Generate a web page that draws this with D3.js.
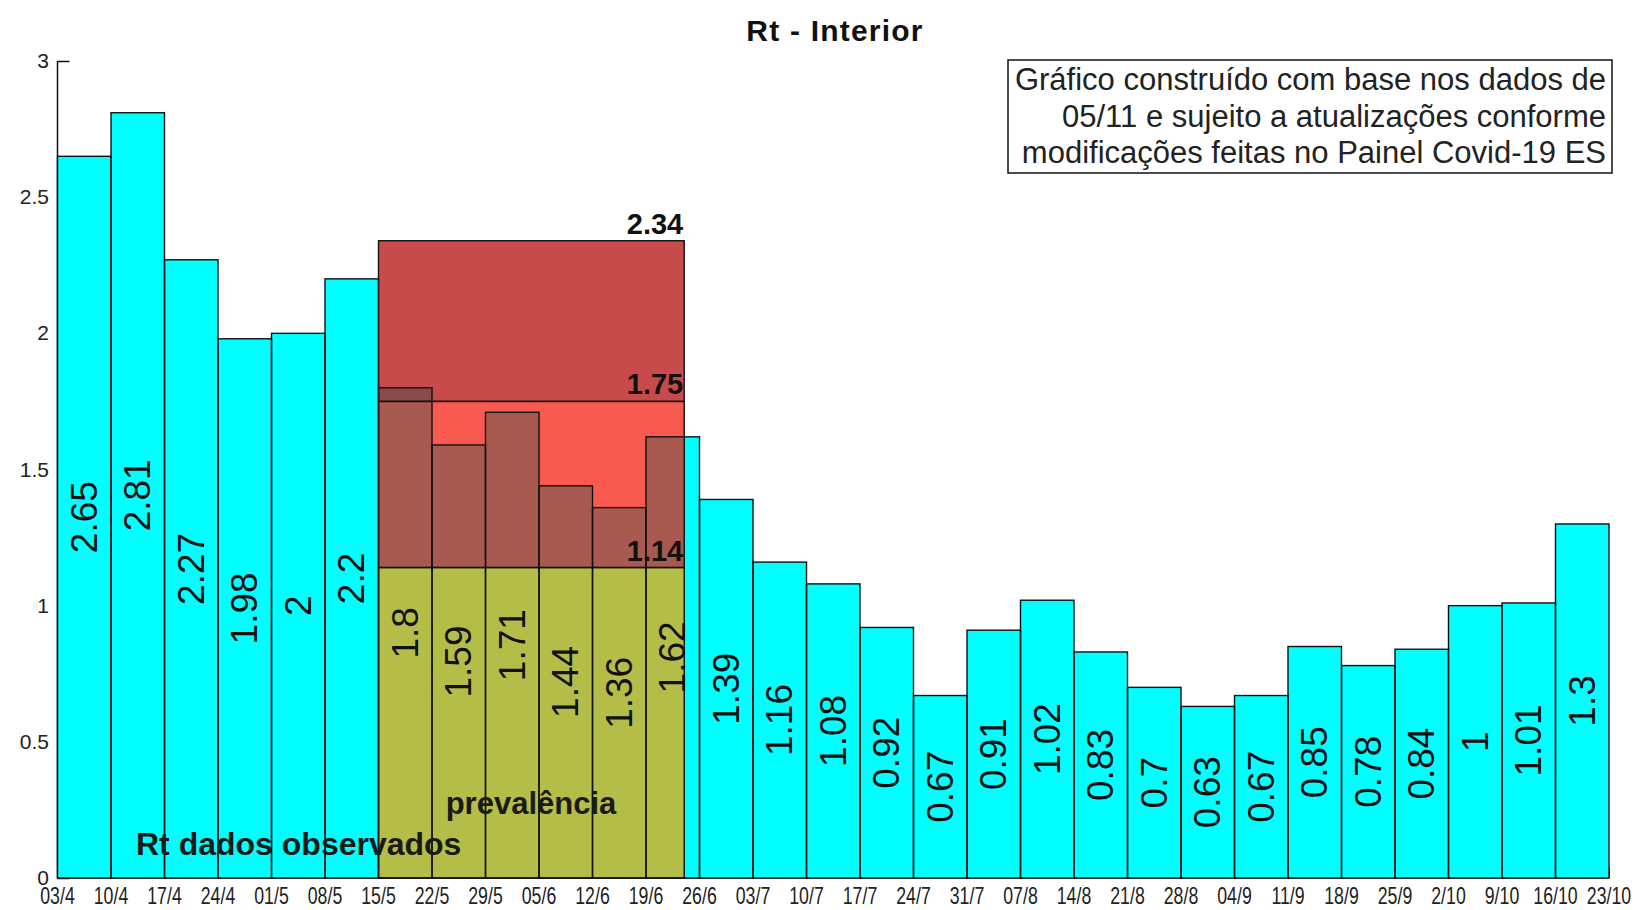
<!DOCTYPE html>
<html>
<head>
<meta charset="utf-8">
<script src="https://cdn.jsdelivr.net/npm/d3@7"></script>
<style>
  body { margin: 0; background: #fff; }
  svg { display: block; font-family: "Liberation Sans", Arial, sans-serif; }
</style>
</head>
<body>
<svg id="chart" width="1636" height="910"></svg>
<script>
// weekly dates (2020) and their tick labels
const tickDates = ["2020-04-03","2020-04-10","2020-04-17","2020-04-24","2020-05-01","2020-05-08",
  "2020-05-15","2020-05-22","2020-05-29","2020-06-05","2020-06-12","2020-06-19","2020-06-26",
  "2020-07-03","2020-07-10","2020-07-17","2020-07-24","2020-07-31","2020-08-07","2020-08-14",
  "2020-08-21","2020-08-28","2020-09-04","2020-09-11","2020-09-18","2020-09-25","2020-10-02",
  "2020-10-09","2020-10-16","2020-10-23"]
const tickLabels = ["03/4","10/4","17/4","24/4","01/5","08/5","15/5","22/5","29/5","05/6","12/6",
  "19/6","26/6","03/7","10/7","17/7","24/7","31/7","07/8","14/8","21/8","28/8","04/9","11/9",
  "18/9","25/9","2/10","9/10","16/10","23/10"]
// Rt per week (bar i spans tickDates[i] .. tickDates[i+1])
const rtValues = [2.65,2.81,2.27,1.98,2,2.2,1.8,1.59,1.71,1.44,1.36,1.62,1.39,1.16,1.08,0.92,
  0.67,0.91,1.02,0.83,0.7,0.63,0.67,0.85,0.78,0.84,1,1.01,1.3]
const yTicks = [0,0.5,1,1.5,2,2.5,3]

// prevalence band
const bandStart = "2020-05-15"
const bandEnd = "2020-06-24"
const bandLevels = [1.14, 1.75, 2.34]

const parse = d3.timeParse("%Y-%m-%d")
const dates = tickDates.map(parse)
const bars = rtValues.map((v, i) => ({ v, x0: dates[i], x1: dates[i + 1] }))

const svg = d3.select("#chart")
const x = d3.scaleTime().domain([dates[0], dates[dates.length - 1]]).range([57.5, 1609])
const y = d3.scaleLinear().domain([0, 3]).range([878, 61])

// title
svg.append("text")
  .attr("x", 835).attr("y", 41)
  .attr("text-anchor", "middle")
  .attr("font-size", 30).attr("font-weight", "bold").attr("letter-spacing", 1.2)
  .attr("fill", "#111")
  .text("Rt - Interior")

// y axis (inward ticks, mostly hidden behind bars)
const yAxis = svg.append("g").attr("transform", `translate(${x.range()[0]},0)`)
  .call(d3.axisRight(y).tickValues(yTicks).tickSize(12).tickFormat(""))
yAxis.select(".domain").attr("stroke", "#111").attr("stroke-width", 1.5)
  .attr("d", `M0,${y(0)}V${y(3)}`)
yAxis.selectAll(".tick line").attr("stroke", "#111").attr("stroke-width", 1.5)
svg.append("g").selectAll("text").data(yTicks).join("text")
  .attr("x", 49).attr("y", d => y(d) + 7)
  .attr("text-anchor", "end")
  .attr("font-size", 21).attr("fill", "#222")
  .text(d => d)

// x axis
const xAxis = svg.append("g").attr("transform", `translate(0,${y(0)})`)
  .call(d3.axisTop(x).tickValues(dates).tickSize(10).tickFormat(""))
xAxis.select(".domain").attr("stroke", "#111").attr("stroke-width", 1.5)
  .attr("d", `M${x.range()[0]},0H${x.range()[1]}`)
xAxis.selectAll(".tick line").attr("stroke", "#111")
svg.append("g").selectAll("text").data(dates).join("text")
  .attr("transform", d => `translate(${x(d)},904) scale(0.77,1)`)
  .attr("text-anchor", "middle")
  .attr("font-size", 23).attr("fill", "#222")
  .text((d, i) => tickLabels[i])

// bars
svg.append("g").selectAll("rect").data(bars).join("rect")
  .attr("x", d => x(d.x0)).attr("width", d => x(d.x1) - x(d.x0))
  .attr("y", d => y(d.v)).attr("height", d => y(0) - y(d.v))
  .attr("fill", "#00ffff")

// prevalence overlays
const bx0 = x(parse(bandStart)), bx1 = x(parse(bandEnd))
const bands = [
  { lo: 0, hi: bandLevels[0], fill: "#b4bd47", op: 1 },
  { lo: bandLevels[0], hi: bandLevels[1], fill: "rgb(245,15,0)", op: 0.686 },
  { lo: bandLevels[1], hi: bandLevels[2], fill: "rgb(183,20,20)", op: 0.765 }
]
svg.append("g").selectAll("rect").data(bands).join("rect")
  .attr("x", bx0).attr("width", bx1 - bx0)
  .attr("y", d => y(d.hi)).attr("height", d => y(d.lo) - y(d.hi))
  .attr("fill", d => d.fill).attr("fill-opacity", d => d.op)

// outlines on top
svg.append("g").selectAll("rect").data(bars).join("rect")
  .attr("x", d => x(d.x0)).attr("width", d => x(d.x1) - x(d.x0))
  .attr("y", d => y(d.v)).attr("height", d => y(0) - y(d.v))
  .attr("fill", "none").attr("stroke", "#111").attr("stroke-width", 1.4)
svg.append("g").selectAll("rect").data(bands).join("rect")
  .attr("x", bx0).attr("width", bx1 - bx0)
  .attr("y", d => y(d.hi)).attr("height", d => y(d.lo) - y(d.hi))
  .attr("fill", "none").attr("stroke", "#111").attr("stroke-width", 1.4)

// band level labels
svg.append("g").selectAll("text").data(bandLevels).join("text")
  .attr("x", bx1 - 1).attr("y", d => y(d) - 7)
  .attr("text-anchor", "end")
  .attr("font-size", 29).attr("font-weight", "bold").attr("fill", "#111")
  .text(d => d)

// value labels, rotated
svg.append("g").selectAll("text").data(bars).join("text")
  .attr("transform", d => `translate(${(x(d.x0) + x(d.x1)) / 2},${y(d.v / 2)}) rotate(-90)`)
  .attr("text-anchor", "middle").attr("dominant-baseline", "central")
  .attr("font-size", 37).attr("fill", "#111")
  .text(d => d.v)

// legend-like labels
svg.append("text").attr("x", 531).attr("y", 814)
  .attr("text-anchor", "middle")
  .attr("font-size", 31).attr("font-weight", "bold").attr("fill", "#1a1a1a")
  .text("prevalência")
svg.append("text").attr("x", 136).attr("y", 855)
  .attr("font-size", 32).attr("font-weight", "bold").attr("fill", "#1a1a1a")
  .text("Rt dados observados")

// note box
const note = ["Gráfico construído com base nos dados de",
  "05/11 e sujeito a atualizações conforme",
  "modificações feitas no Painel Covid-19 ES"]
svg.append("rect").attr("x", 1008).attr("y", 60).attr("width", 604).attr("height", 113)
  .attr("fill", "#fff").attr("stroke", "#111").attr("stroke-width", 1.5)
svg.append("g").selectAll("text").data(note).join("text")
  .attr("x", 1606).attr("y", (d, i) => 90 + i * 36.5)
  .attr("text-anchor", "end")
  .attr("font-size", 31).attr("fill", "#222")
  .text(d => d)
</script>
</body>
</html>
